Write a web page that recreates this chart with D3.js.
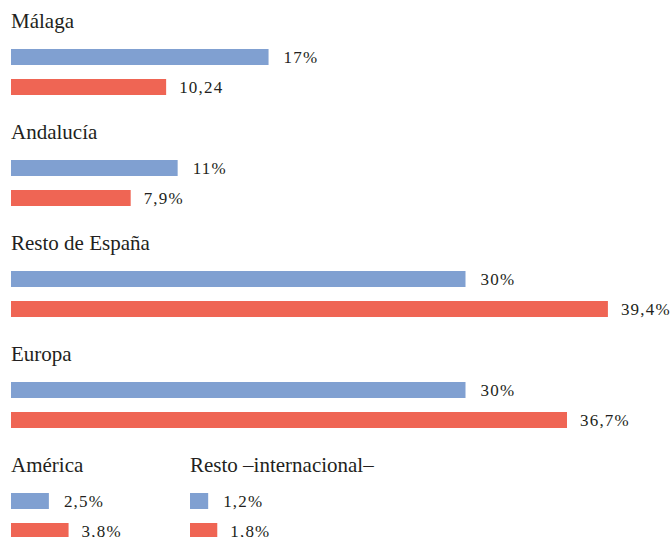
<!DOCTYPE html>
<html>
<head>
<meta charset="utf-8">
<script src="https://cdn.jsdelivr.net/npm/d3@7"></script>
<style>
  body { margin: 0; background: #fff; }
</style>
</head>
<body>
<script>
const categories = ['Málaga', 'Andalucía', 'Resto de España', 'Europa', 'América', 'Resto –internacional–'];
const blueValues = [17, 11, 30, 30, 2.5, 1.2];
const redValues = [10.24, 7.9, 39.4, 36.7, 3.8, 1.8];
const blueLabels = ['17%', '11%', '30%', '30%', '2,5%', '1,2%'];
const redLabels = ['10,24', '7,9%', '39,4%', '36,7%', '3,8%', '1,8%'];

const width = 670;
const height = 537;
const left = 11;
const barH = 16;

const svg = d3.select('body')
    .append('svg')
    .attr('width', width)
    .attr('height', height)
    .attr('font-family', '"Liberation Serif", "Times New Roman", serif')
    .attr('fill', '#231f20');

// rows: the last two groups share one row
const rowOf = i => Math.min(i, 4);
const colOf = i => (i >= 4 ? i - 4 : 0);

const x = d3.scaleLinear().domain([0, 40]).range([0, 606]);
const y = d3.scaleLinear().domain([0, 4]).range([49, 493]);
const col = d3.scaleLinear().domain([0, 1]).range([left, left + 179]);

const data = categories.map((c, i) => ({
    name: c, blue: blueValues[i], red: redValues[i],
    blueLabel: blueLabels[i], redLabel: redLabels[i],
    row: rowOf(i), col: colOf(i)
}));

const g = svg.selectAll('g.group')
    .data(data)
    .join('g')
    .attr('class', 'group')
    .attr('transform', d => `translate(${col(d.col)},${y(d.row)})`);

g.append('text')
    .attr('x', 0)
    .attr('y', -21)
    .attr('font-size', 21)
    .text(d => d.name);

// blue bars
g.append('rect')
    .attr('x', 0)
    .attr('y', 0)
    .attr('width', d => x(d.blue))
    .attr('height', barH)
    .attr('fill', '#80a0d1');

// red bars
g.append('rect')
    .attr('x', 0)
    .attr('y', 30)
    .attr('width', d => x(d.red))
    .attr('height', barH)
    .attr('fill', '#ef6554');

g.append('text')
    .attr('x', d => x(d.blue) + 15)
    .attr('y', barH / 2)
    .attr('dy', '0.33em')
    .attr('font-size', 17)
    .attr('letter-spacing', 1.2)
    .text(d => d.blueLabel);

g.append('text')
    .attr('x', d => x(d.red) + 13)
    .attr('y', 30 + barH / 2)
    .attr('dy', '0.33em')
    .attr('font-size', 17)
    .attr('letter-spacing', 1.2)
    .text(d => d.redLabel);
</script>
</body>
</html>
